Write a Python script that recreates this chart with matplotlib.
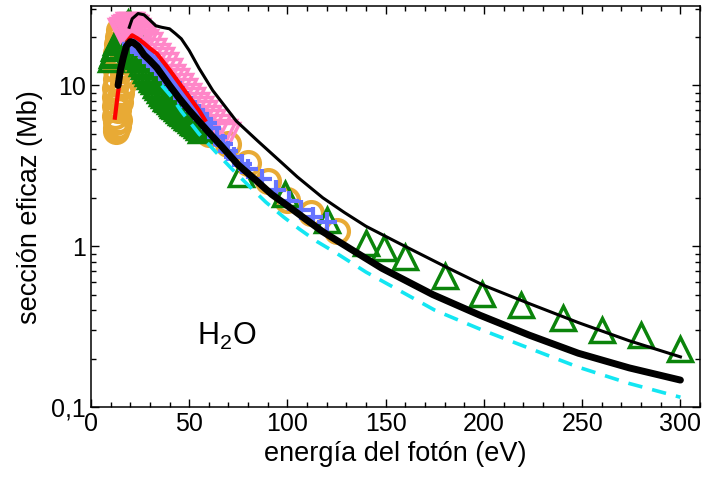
import numpy as np
import matplotlib
matplotlib.use("Agg")
import matplotlib.pyplot as plt
from matplotlib.ticker import FixedLocator, FuncFormatter, MultipleLocator

plt.rcParams['font.family'] = ['Liberation Sans', 'DejaVu Sans']
plt.rcParams['mathtext.fontset'] = 'custom'
plt.rcParams['mathtext.rm'] = 'Liberation Sans'

# ---- datos (E en eV, sigma en Mb) ----
# circulos naranjas
circ_E = [13.0, 12.5, 13.6, 12.6, 14.2, 12.4, 13.8, 12.4, 14.6, 12.4, 15.5, 12.4, 16.3, 12.5,
          16.5, 12.5, 16.5, 12.6, 16.4, 12.8, 16.2, 13.2, 16.0, 13.8, 15.5, 14.5,
          60, 70, 80, 90, 100, 112, 125]
circ_s = [5.2, 5.4, 5.6, 5.9, 6.1, 6.5, 7.0, 7.5, 7.9, 8.5, 9.0, 9.6, 10.2, 10.9,
          11.6, 12.4, 13.2, 14.1, 15.0, 16.0, 17.0, 18.0, 19.0, 20.0, 21.0, 22.0,
          5.0, 4.3, 3.3, 2.55, 1.95, 1.6, 1.25]

# triangulos verdes
tri_E = [10, 10.5, 11, 11.5, 12, 13, 14, 15, 16, 17, 18, 19, 20,
         21, 22, 23, 24, 25, 26, 27, 28, 29, 30, 31, 32, 33, 34, 35, 36, 37, 38, 39, 40,
         41, 42, 43, 44, 45, 46, 47, 48, 49, 50, 51, 52, 53, 54, 55, 56,
         76.5, 99, 120, 140, 149, 160, 180, 199, 219, 240, 260, 280, 300]
tri_s = [14.5, 15.5, 16.0, 17.0, 17.5, 18.5, 19.5, 20.5, 21.5, 22.5, 23.5, 24.5, 24.0,
         17.0, 16.5, 16.0, 15.2, 14.5, 13.8, 13.2, 12.5, 12.0, 11.5, 11.0, 10.6, 10.1, 9.8, 9.4,
         9.0, 8.7, 8.4, 8.2, 8.0, 7.8, 7.6, 7.4, 7.2, 7.0, 6.85, 6.7, 6.55, 6.4, 6.3, 6.1, 5.95,
         5.8, 5.65, 5.5, 5.3,
         2.8, 2.1, 1.45, 1.04, 0.975, 0.86, 0.654, 0.503, 0.433, 0.358, 0.302, 0.282, 0.229]

# triangulos invertidos rosas
tinv_E = [15, 16, 17, 18, 19, 20, 21, 22, 23, 24, 25, 26, 27, 28, 30, 32, 34, 36, 38, 40,
          42, 44, 46, 48, 50, 52, 54, 56, 58, 60, 62, 65, 68, 70]
tinv_s = [22, 22.5, 23, 23.5, 24, 24, 24, 23.5, 23, 22, 21, 20.5, 20, 19, 18, 16.5, 15.5,
          14.5, 13.5, 12.5, 11.5, 10.8, 10.0, 9.3, 8.7, 8.2, 7.7, 7.2, 6.8, 6.4, 6.0, 5.6,
          5.2, 5.0]

# cruces azules
plus_E = [21, 23, 25, 27, 29, 31, 33, 35, 37, 39, 41, 43, 45, 47, 49, 51, 53, 55, 57, 59,
          61, 64, 67, 70, 73, 77, 80, 87, 94, 101, 107, 113, 120]
plus_s = [18, 17.5, 17, 16, 15, 14, 13.2, 12.5, 11.7, 11, 10.3, 9.6, 9.0, 8.4, 7.9, 7.4,
          7.0, 6.6, 6.2, 5.8, 5.4, 4.8, 4.3, 3.9, 3.6, 3.25, 3.0, 2.6, 2.25, 1.9, 1.68, 1.52,
          1.42]

# curva roja
red_E = [12.2, 13.7, 16.3, 18.8, 21, 24, 27, 30, 33.5, 40, 45, 50, 55, 58]
red_s = [6.3, 8.9, 14.3, 19.0, 20.5, 19.5, 18.3, 17.0, 15.8, 12.5, 10.3, 8.5, 7.0, 6.1]

# curva negra fina
thin_E = [19.5, 21, 24, 27, 30, 33, 36, 40, 43, 46, 50, 55, 62, 74, 85, 96, 105, 118, 129,
          140, 157, 180, 200, 223, 248, 274, 300]
thin_s = [23, 26, 28, 27.5, 25.5, 23.5, 23, 22.5, 21, 19.5, 16.5, 12.8, 9.3, 6.0, 4.5, 3.4,
          2.7, 2.0, 1.62, 1.33, 1.04, 0.75, 0.57, 0.44, 0.335, 0.258, 0.205]

# curva negra gruesa
thick_E = [13.8, 15, 16.5, 18, 20, 21.5, 24, 27, 30, 33.5, 40, 45, 50, 60, 67, 75, 84, 92,
           101, 110, 118, 131, 148, 174, 198, 223, 248, 274, 300]
thick_s = [10, 12.5, 15, 17.5, 18.7, 18.5, 17.5, 15.5, 14.3, 12.9, 10, 8.3, 7.0, 5.1, 4.12,
           3.2, 2.57, 2.1, 1.75, 1.45, 1.23, 0.98, 0.73, 0.5, 0.372, 0.28, 0.216, 0.175,
           0.147]

# curva cian discontinua
cyan_E = [36, 41, 46, 55, 64, 72, 80, 89, 98, 106, 115, 124, 140, 157, 175, 198, 223, 248,
          274, 300]
cyan_s = [10.0, 8.5, 6.9, 5.0, 3.8, 3.0, 2.4, 1.88, 1.52, 1.28, 1.07, 0.92, 0.69, 0.53,
          0.40, 0.305, 0.232, 0.177, 0.14, 0.115]

fig = plt.figure(figsize=(7.05, 4.87), dpi=100)
ax = fig.add_axes([0.129, 0.1643, 0.864, 0.8225])

ax.plot(circ_E, circ_s, 'o', ms=16.5, mfc='none', mec='#e8aa35', mew=3)
ax.plot(tri_E, tri_s, '^', ms=17, mfc='none', mec='#0b840b', mew=2.5)
ax.plot(tinv_E, tinv_s, 'v', ms=16, mfc='none', mec='#ff86c8', mew=2.5)
ax.plot(plus_E, plus_s, '+', ms=15, mec='#6674ff', mew=3)
ax.plot(red_E, red_s, '-', color='red', lw=3)
ax.plot(thin_E, thin_s, '-', color='black', lw=2.2)
ax.plot(thick_E, thick_s, '-', color='black', lw=5, solid_capstyle='round')
ax.plot(cyan_E, cyan_s, '--', color='#13e6f2', lw=2.6, dashes=(4, 2.8))

ax.text(54, 0.243, 'H$_\\mathrm{2}$O', fontsize=22, ha='left', va='baseline')

ax.set_yscale('log')
ax.set_xlim(0, 310)
ax.set_ylim(0.1, 31)
ax.xaxis.set_major_locator(MultipleLocator(50))
ax.xaxis.set_minor_locator(MultipleLocator(10))
ax.yaxis.set_major_locator(FixedLocator([0.1, 1, 10]))
ax.yaxis.set_minor_locator(FixedLocator([m * d for d in (0.1, 1, 10) for m in range(2, 10)]))
ax.yaxis.set_major_formatter(FuncFormatter(lambda v, p: ('%g' % v).replace('.', ',')))
ax.yaxis.set_minor_formatter(FuncFormatter(lambda v, p: ''))

ax.tick_params(which='both', direction='in', top=True, right=True, labelsize=18, width=1)
ax.tick_params(which='major', length=6)
ax.tick_params(which='minor', length=3.5)
for s in ax.spines.values():
    s.set_linewidth(1.1)

ax.set_xlabel('energía del fotón (eV)', fontsize=19.5, labelpad=4)
ax.set_ylabel('sección eficaz (Mb)', fontsize=19.5, labelpad=6)

fig.savefig('out.png', dpi=100)
